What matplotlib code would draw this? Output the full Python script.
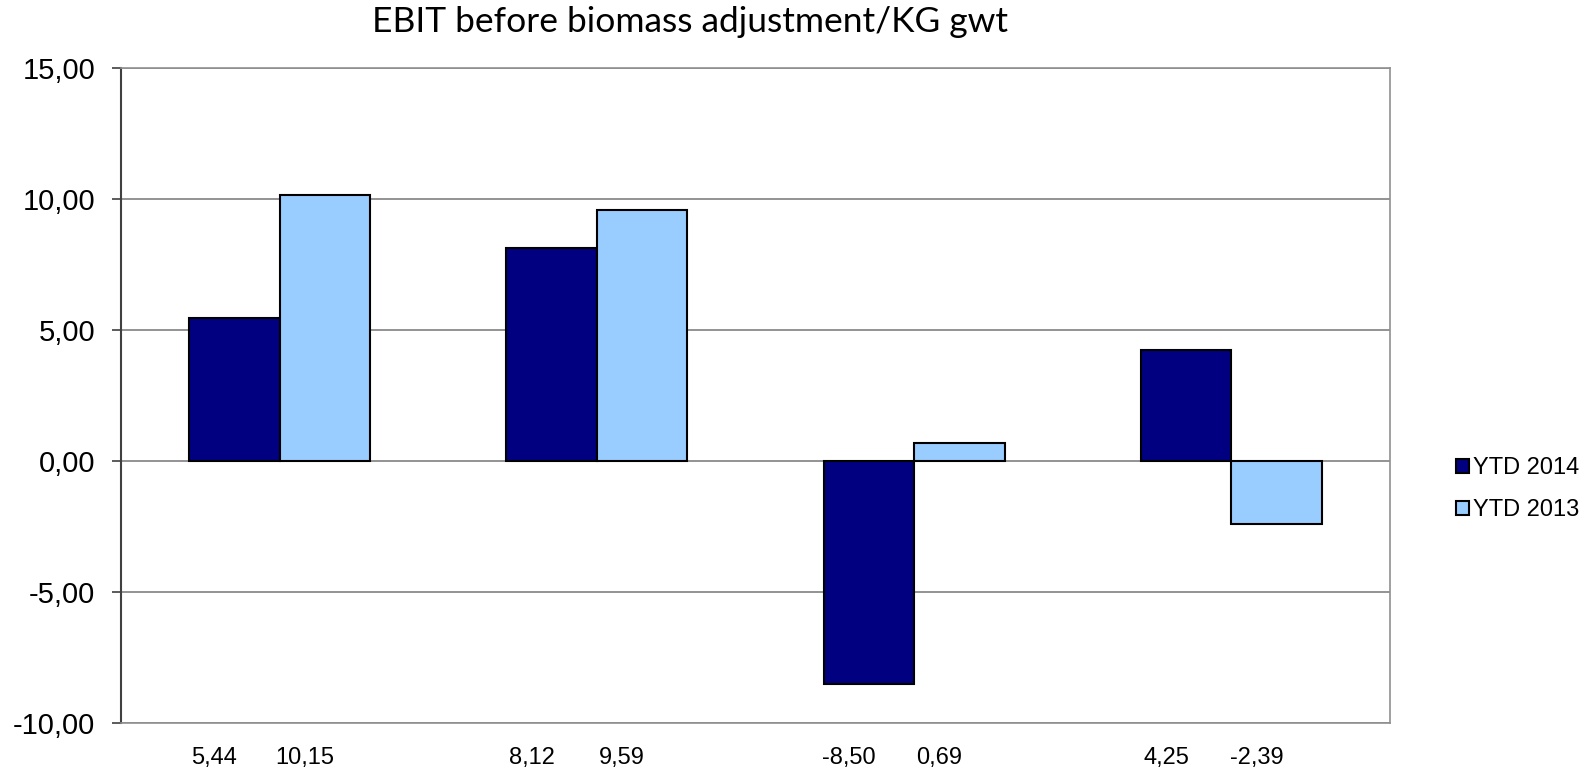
import matplotlib
matplotlib.use('Agg')
import matplotlib.pyplot as plt
import matplotlib.transforms as mtransforms
import numpy as np

# data
series_names = ['YTD 2014', 'YTD 2013']
ytd_2014 = [5.44, 8.12, -8.50, 4.25]
ytd_2013 = [10.15, 9.59, 0.69, -2.39]
y_ticks = [-10, -5, 0, 5, 10, 15]

colors = ['#000080', '#99CCFF']

def fmt(v):
    return f"{v:.2f}".replace('.', ',')

fig = plt.figure(figsize=(15.92, 7.79), dpi=100)
ax = fig.add_axes([121 / 1592, 1 - 723 / 779, (1390 - 121) / 1592, (723 - 68) / 779])

x = np.arange(len(ytd_2014))
w = 0.285
ax.bar(x - w / 2, ytd_2014, w, color=colors[0], edgecolor='black', linewidth=1.5,
       label=series_names[0], zorder=3)
ax.bar(x + w / 2, ytd_2013, w, color=colors[1], edgecolor='black', linewidth=1.5,
       label=series_names[1], zorder=3)

ax.set_xlim(-0.5, len(x) - 0.5)
ax.set_ylim(-10, 15)
ax.set_yticks(y_ticks)
ax.set_yticklabels([fmt(v) for v in y_ticks], fontsize=21, family='Liberation Sans')
ax.yaxis.grid(True, color='#808080', linewidth=1.2, zorder=0)

# values shown as x labels under each bar
pos = list(x - w / 2) + list(x + w / 2)
vals = ytd_2014 + ytd_2013
ax.set_xticks(pos)
ax.set_xticklabels([fmt(v) for v in vals], fontsize=17, family='Liberation Sans')
ax.tick_params(axis='x', length=0, pad=17)
ax.tick_params(axis='y', length=6.5, width=1.2, color='#404040', pad=12)

# labels sit a bit left of the bar centres in the original
shift = mtransforms.ScaledTranslation(-20 / 100, 0, fig.dpi_scale_trans)
for lbl in ax.get_xticklabels():
    lbl.set_transform(lbl.get_transform() + shift)

for s in ['top', 'right', 'bottom']:
    ax.spines[s].set_color('#909090')
    ax.spines[s].set_linewidth(1.2)
ax.spines['left'].set_color('#404040')
ax.spines['left'].set_linewidth(1.5)

fig.text(690 / 1592, 1 - 22 / 779, 'EBIT before biomass adjustment/KG gwt',
         ha='center', va='center', fontsize=25.5, family='Lato')

ax.legend(loc='center left', bbox_to_anchor=(1.0, 0.357), frameon=False,
          prop={'family': 'Liberation Sans', 'size': 17},
          handlelength=0.55, handleheight=0.55, handletextpad=0.15,
          labelspacing=0.85, borderaxespad=2.4)

plt.savefig('out.png', dpi=100)
plt.close()
